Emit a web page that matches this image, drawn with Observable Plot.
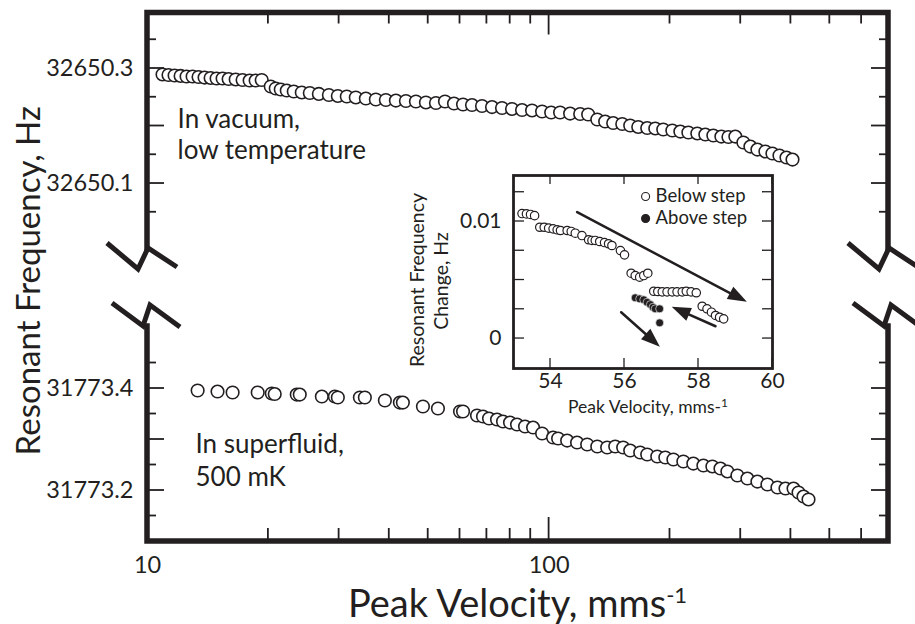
<!DOCTYPE html>
<html>
<head>
<meta charset="utf-8">
<script src="https://cdn.jsdelivr.net/npm/d3@7"></script>
<script src="https://cdn.jsdelivr.net/npm/@observablehq/plot@0.6"></script>
<style>
  html, body { margin: 0; padding: 0; background: #fff; }
  #chart { width: 915px; height: 624px; }
</style>
</head>
<body>
<div id="chart"></div>
<script>
const ink = "#231f20";
const font = "Lato, 'Open Sans', sans-serif";

// Tuning fork in vacuum at low temperature: peak velocity (mm/s) and resonant frequency (Hz)
const vacuumVelocity = [10.90, 11.28, 11.68, 12.09, 12.51, 12.95, 13.40, 13.87, 14.36, 14.86, 15.38, 15.92, 16.58, 17.25, 17.96, 18.59, 19.25, 20.27, 20.86, 21.47, 22.22, 23.13, 24.22, 25.36, 26.71, 28.29, 29.78, 31.35, 33.01, 34.97, 37.03, 39.22, 41.54, 44.00, 46.60, 49.35, 52.27, 55.05, 57.97, 61.05, 64.27, 68.07, 72.09, 76.34, 80.85, 85.63, 90.69, 96.06, 101.2, 106.5, 112.8, 119.5, 125.1, 131.8, 137.9, 144.4, 152.1, 159.2, 166.7, 175.5, 183.8, 192.4, 202.7, 212.2, 222.2, 233.9, 244.9, 256.4, 268.5, 279.6, 290.9, 304.6, 317.1, 330.1, 345.6, 359.8, 374.6, 390.0, 403.7];
const vacuumFrequency = [32650.2896, 32650.2887, 32650.2878, 32650.2870, 32650.2861, 32650.2861, 32650.2852, 32650.2843, 32650.2835, 32650.2826, 32650.2826, 32650.2817, 32650.2809, 32650.2800, 32650.2791, 32650.2791, 32650.2800, 32650.2687, 32650.2652, 32650.2635, 32650.2617, 32650.2600, 32650.2583, 32650.2574, 32650.2557, 32650.2539, 32650.2522, 32650.2513, 32650.2496, 32650.2478, 32650.2461, 32650.2452, 32650.2443, 32650.2435, 32650.2426, 32650.2409, 32650.2400, 32650.2426, 32650.2391, 32650.2374, 32650.2365, 32650.2348, 32650.2330, 32650.2313, 32650.2296, 32650.2278, 32650.2270, 32650.2252, 32650.2235, 32650.2235, 32650.2217, 32650.2209, 32650.2200, 32650.2113, 32650.2078, 32650.2052, 32650.2035, 32650.2009, 32650.1983, 32650.1965, 32650.1957, 32650.1939, 32650.1922, 32650.1904, 32650.1887, 32650.1870, 32650.1852, 32650.1835, 32650.1817, 32650.1809, 32650.1817, 32650.1713, 32650.1643, 32650.1591, 32650.1557, 32650.1522, 32650.1487, 32650.1452, 32650.1417];

// The same fork in superfluid helium at 500 mK
const superfluidVelocity = [13.33, 14.94, 16.29, 18.81, 20.39, 20.74, 23.53, 23.94, 27.17, 29.27, 29.78, 33.79, 34.77, 39.00, 42.50, 43.24, 48.51, 52.87, 60.00, 61.05, 66.14, 68.46, 70.86, 74.18, 76.78, 79.92, 83.20, 87.11, 91.23, 96.06, 102.3, 105.3, 110.9, 117.4, 124.4, 131.8, 139.5, 146.1, 152.9, 159.2, 168.6, 175.5, 185.9, 194.7, 203.9, 215.9, 228.6, 242.2, 255.0, 267.1, 277.9, 294.3, 311.7, 330.1, 349.6, 370.3, 387.8, 406.1, 417.9, 430.0, 442.5];
const superfluidFrequency = [31773.3961, 31773.3941, 31773.3922, 31773.3922, 31773.3902, 31773.3892, 31773.3882, 31773.3882, 31773.3843, 31773.3843, 31773.3824, 31773.3824, 31773.3824, 31773.3765, 31773.3725, 31773.3725, 31773.3647, 31773.3608, 31773.3549, 31773.3549, 31773.3471, 31773.3451, 31773.3412, 31773.3392, 31773.3353, 31773.3333, 31773.3294, 31773.3255, 31773.3235, 31773.3118, 31773.3039, 31773.3020, 31773.2980, 31773.2941, 31773.2902, 31773.2863, 31773.2843, 31773.2863, 31773.2843, 31773.2784, 31773.2745, 31773.2706, 31773.2667, 31773.2647, 31773.2608, 31773.2569, 31773.2529, 31773.2490, 31773.2471, 31773.2431, 31773.2373, 31773.2294, 31773.2235, 31773.2176, 31773.2118, 31773.2059, 31773.2039, 31773.2039, 31773.1961, 31773.1882, 31773.1824];

// Inset: frequency change around the step, below and above it
const belowVelocity = [53.23, 53.35, 53.46, 53.57, 53.71, 53.83, 53.95, 54.07, 54.18, 54.27, 54.45, 54.56, 54.67, 54.85, 55.03, 55.12, 55.21, 55.33, 55.46, 55.57, 55.66, 55.89, 56.00, 56.18, 56.29, 56.41, 56.52, 56.63, 56.79, 56.90, 57.02, 57.15, 57.29, 57.42, 57.56, 57.67, 57.80, 57.94, 58.10, 58.23, 58.35, 58.46, 58.57, 58.68];
const belowChange = [0.01068, 0.01065, 0.0106, 0.0105, 0.00951, 0.00951, 0.00943, 0.00937, 0.00929, 0.00923, 0.00923, 0.00915, 0.0090, 0.0088, 0.00844, 0.00838, 0.00838, 0.00829, 0.0082, 0.0081, 0.00795, 0.00752, 0.00715, 0.00558, 0.00538, 0.00524, 0.00538, 0.00558, 0.00404, 0.00402, 0.00399, 0.00399, 0.00399, 0.00399, 0.00399, 0.00404, 0.00399, 0.00391, 0.00276, 0.00254, 0.00225, 0.00197, 0.00182, 0.00168];
const aboveVelocity = [56.29, 56.41, 56.52, 56.61, 56.70, 56.77, 56.83, 56.95, 56.95];
const aboveChange = [0.00348, 0.00339, 0.00331, 0.0031, 0.0029, 0.00268, 0.00254, 0.00254, 0.00134];

// Sweep-direction arrows in the inset
const arrowFromVelocity = [54.72, 58.46, 55.91];
const arrowFromChange = [0.0108, 0.00105, 0.00225];
const arrowToVelocity = [59.32, 57.29, 56.97];
const arrowToChange = [0.0031, 0.00268, -0.00074];

const legendLabels = ["Below step", "Above step"];
const legendVelocity = 56.57;
const legendTextVelocity = 56.84;
const legendChange = [0.01214, 0.01026];

// Axis ticks
const velocityDomain = [10, 700];
const velocityLabelTicks = [10, 100];
const velocityMajorTicks = [100];
const velocityMinorTicks = [20, 30, 40, 50, 60, 70, 80, 90, 200, 300, 400, 500, 600];
const vacuumDomain = [32649.987, 32650.3965];
const vacuumLabelTicks = [32650.1, 32650.3];
const vacuumMajorTicks = [32650.1, 32650.2, 32650.3];
const vacuumMinorTicks = [32650.05, 32650.15, 32650.25, 32650.35];
const superfluidDomain = [31773.1, 31773.5216];
const superfluidLabelTicks = [31773.2, 31773.4];
const superfluidMajorTicks = [31773.2, 31773.3, 31773.4];
const superfluidMinorTicks = [31773.15, 31773.25, 31773.35, 31773.45];
const insetVelocityDomain = [53, 60];
const insetVelocityTicks = [54, 56, 58, 60];
const insetChangeDomain = [-0.00256, 0.01393];
const insetChangeLabelTicks = [0, 0.01];
const insetChangeTicks = [0, 0.0025, 0.005, 0.0075, 0.01, 0.0125];

const vacuum = vacuumVelocity.map((v, i) => ({v, f: vacuumFrequency[i]}));
const superfluid = superfluidVelocity.map((v, i) => ({v, f: superfluidFrequency[i]}));
const below = belowVelocity.map((v, i) => ({v, c: belowChange[i]}));
const above = aboveVelocity.map((v, i) => ({v, c: aboveChange[i]}));
const sweeps = arrowFromVelocity.map((v, i) => ({x1: v, y1: arrowFromChange[i], x2: arrowToVelocity[i], y2: arrowToChange[i]}));
const legend = legendLabels.map((label, i) => ({label, c: legendChange[i], filled: i === 1}));

const W = 915, H = 624;
const frame = {left: 147, right: 888, top: 12.5, upperEnd: 248, lowerStart: 326, bottom: 541};
const baseStyle = {background: "transparent", fontFamily: font, fontSize: "23.5px", color: ink};

const upperPlot = Plot.plot({
  width: W, height: H,
  marginLeft: frame.left, marginRight: W - frame.right,
  marginTop: frame.top, marginBottom: H - frame.upperEnd,
  style: baseStyle,
  x: {type: "log", domain: velocityDomain, axis: null},
  y: {domain: vacuumDomain, ticks: vacuumLabelTicks, tickFormat: d => d.toFixed(1), tickSize: 0, tickPadding: 14, label: null},
  marks: [
    Plot.dot(vacuum, {x: "v", y: "f", r: 6.3, fill: "white", stroke: ink, strokeWidth: 1.6}),
    Plot.text(["In vacuum,", "low temperature"], {x: 11.88, y: [32650.2113, 32650.1574], text: d => d, textAnchor: "start", fontSize: 26, fill: ink})
  ]
});

const lowerPlot = Plot.plot({
  width: W, height: H,
  marginLeft: frame.left, marginRight: W - frame.right,
  marginTop: frame.lowerStart, marginBottom: H - frame.bottom,
  style: baseStyle,
  x: {type: "log", domain: velocityDomain, ticks: velocityLabelTicks, tickFormat: d => String(d), tickSize: 0, tickPadding: 15, label: null},
  y: {domain: superfluidDomain, ticks: superfluidLabelTicks, tickFormat: d => d.toFixed(1), tickSize: 0, tickPadding: 14, label: null},
  marks: [
    Plot.dot(superfluid, {x: "v", y: "f", r: 6.3, fill: "white", stroke: ink, strokeWidth: 1.6}),
    Plot.text(["In superfluid,", "500 mK"], {x: 13.17, y: [31773.2902, 31773.2255], text: d => d, textAnchor: "start", fontSize: 26, fill: ink})
  ]
});

const insetBox = {left: 513, right: 772, top: 175, bottom: 368};
const insetPlot = Plot.plot({
  width: W, height: H,
  marginLeft: insetBox.left, marginRight: W - insetBox.right,
  marginTop: insetBox.top, marginBottom: H - insetBox.bottom,
  style: {...baseStyle, fontSize: "21px"},
  x: {domain: insetVelocityDomain, ticks: insetVelocityTicks, tickFormat: d => String(d), tickSize: 0, tickPadding: 5, label: null},
  y: {domain: insetChangeDomain, ticks: insetChangeLabelTicks, tickFormat: d => String(d), tickSize: 0, tickPadding: 12, label: null},
  marks: [
    Plot.frame({fill: "white", stroke: ink, strokeWidth: 2.8}),
    // shafts stop short of the tip; solid heads are added below
    Plot.arrow(sweeps, {x1: "x1", y1: "y1", x2: "x2", y2: "y2", stroke: ink, strokeWidth: 2.5, headLength: 0, insetEnd: 10}),
    Plot.dot(below, {x: "v", y: "c", r: 4.2, fill: "white", stroke: ink, strokeWidth: 1.2}),
    Plot.dot(above, {x: "v", y: "c", r: 4, fill: ink, stroke: "white", strokeWidth: 0.6}),
    Plot.dot(legend, {x: legendVelocity, y: "c", r: 4, fill: d => d.filled ? ink : "white", stroke: ink, strokeWidth: 1.1}),
    Plot.text(legend, {x: legendTextVelocity, y: "c", text: "label", textAnchor: "start", fontSize: 18.5, fill: ink})
  ]
});

function position(plot, name) {
  const s = plot.scale(name);
  if (s && typeof s.apply === "function") return v => s.apply(v);
  const base = s.type === "log" ? d3.scaleLog() : d3.scaleLinear();
  return base.domain(s.domain).range(s.range);
}

const svg = d3.create("svg").attr("width", W).attr("height", H).attr("viewBox", [0, 0, W, H])
  .style("display", "block").style("background", "white");

svg.node().append(lowerPlot);
svg.node().append(upperPlot);

const deco = svg.append("g").attr("fill", "none").attr("stroke", ink);
const px = position(lowerPlot, "x");
const pyUpper = position(upperPlot, "y");
const pyLower = position(lowerPlot, "y");
const L = px(velocityDomain[0]), R = px(velocityDomain[1]);
const T = pyUpper(vacuumDomain[1]), UE = pyUpper(vacuumDomain[0]);
const LS = pyLower(superfluidDomain[1]), B = pyLower(superfluidDomain[0]);

function segments(g, list, width) {
  g.selectAll(null).data(list).join("line")
    .attr("x1", d => d[0]).attr("y1", d => d[1]).attr("x2", d => d[2]).attr("y2", d => d[3])
    .attr("stroke-width", width);
}

// Frame ticks on all four sides, pointing inward
const mainTicks = [];
for (const [vals, len] of [[velocityMajorTicks, 24], [velocityMinorTicks, 13]]) {
  for (const v of vals) {
    const x = px(v);
    mainTicks.push([x, B, x, B - len], [x, T, x, T + len - 2]);
  }
}
for (const [scale, vals, len] of [[pyUpper, vacuumMajorTicks, 17], [pyUpper, vacuumMinorTicks, 9], [pyLower, superfluidMajorTicks, 17], [pyLower, superfluidMinorTicks, 9]]) {
  for (const v of vals) {
    const y = scale(v);
    mainTicks.push([L, y, L + len, y], [R, y, R - len, y]);
  }
}
segments(deco, mainTicks, 1.8);

// Thick frame with broken vertical sides
const line = d3.line();
const frameWidth = 5.5;
deco.append("path").attr("stroke-width", frameWidth).attr("stroke-linecap", "square")
  .attr("d", line([[L, UE], [L, T], [R, T], [R, UE]]));
deco.append("path").attr("stroke-width", frameWidth).attr("stroke-linecap", "square")
  .attr("d", line([[L, LS], [L, B], [R, B], [R, LS]]));

// Axis-break zigzags
const upperBreak = [[-40, -5], [-9, 21], [1, 0], [30, 19]];
const lowerBreak = [[-35, -23], [-4, 0], [3, -21], [33, 1]];
for (const xEdge of [L, R]) {
  deco.append("path").attr("stroke-width", 5).attr("stroke-linejoin", "miter")
    .attr("d", line(upperBreak.map(([dx, dy]) => [xEdge + dx, UE + dy])));
  deco.append("path").attr("stroke-width", 5).attr("stroke-linejoin", "miter")
    .attr("d", line(lowerBreak.map(([dx, dy]) => [xEdge + dx, LS + dy])));
}

// Axis titles
const titles = svg.append("g").attr("fill", ink).attr("font-family", font);
titles.append("text")
  .attr("transform", `translate(40,${(T + B) / 2 + 4}) rotate(-90)`)
  .attr("text-anchor", "middle").attr("font-size", 33)
  .text("Resonant Frequency, Hz");
const xTitle = titles.append("text")
  .attr("x", (L + R) / 2).attr("y", 617)
  .attr("text-anchor", "middle").attr("font-size", 38);
xTitle.append("tspan").text("Peak Velocity, mms");
xTitle.append("tspan").attr("dy", -14).attr("font-size", 22).text("-1");

svg.node().append(insetPlot);

// Inset ticks
const ix = position(insetPlot, "x");
const iy = position(insetPlot, "y");
const insetTicks = [];
for (const v of insetVelocityTicks) {
  const x = ix(v);
  insetTicks.push([x, insetBox.bottom, x, insetBox.bottom - 10], [x, insetBox.top, x, insetBox.top + 9]);
}
for (const v of insetChangeTicks) {
  const y = iy(v);
  insetTicks.push([insetBox.left, y, insetBox.left + 11, y], [insetBox.right, y, insetBox.right - 10, y]);
}
const insetDeco = svg.append("g").attr("fill", "none").attr("stroke", ink);
segments(insetDeco, insetTicks, 1.3);

// Solid arrowheads at the end of each sweep arrow
const headLength = 19, headHalfWidth = 7;
insetDeco.selectAll(null).data(sweeps).join("path")
  .attr("fill", ink).attr("stroke", "none")
  .attr("d", d => {
    const x1 = ix(d.x1), y1 = iy(d.y1), x2 = ix(d.x2), y2 = iy(d.y2);
    const len = Math.hypot(x2 - x1, y2 - y1);
    const ux = (x2 - x1) / len, uy = (y2 - y1) / len;
    const bx = x2 - ux * headLength, by = y2 - uy * headLength;
    return `M${x2},${y2}L${bx - uy * headHalfWidth},${by + ux * headHalfWidth}L${bx + uy * headHalfWidth},${by - ux * headHalfWidth}Z`;
  });

const insetTitles = svg.append("g").attr("fill", ink).attr("font-family", font).attr("font-size", 19.5).attr("text-anchor", "middle");
insetTitles.append("text").attr("transform", "translate(424,280) rotate(-90)").text("Resonant Frequency");
insetTitles.append("text").attr("transform", "translate(448,281) rotate(-90)").text("Change, Hz");
const insetX = insetTitles.append("text").attr("x", 648).attr("y", 413).attr("font-size", 17.5);
insetX.append("tspan").text("Peak Velocity, mms-");
insetX.append("tspan").attr("dy", -6).attr("font-size", 12).text("1");

document.getElementById("chart").append(svg.node());
</script>
</body>
</html>
